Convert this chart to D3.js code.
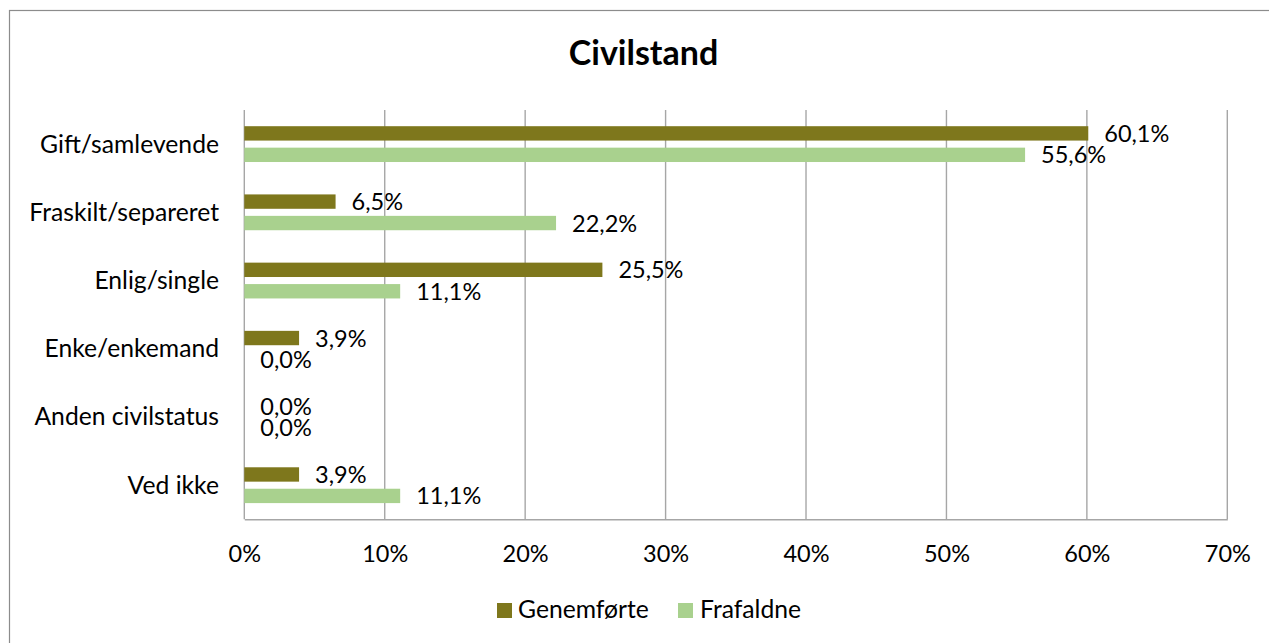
<!DOCTYPE html>
<html>
<head>
<meta charset="utf-8">
<script src="https://cdn.jsdelivr.net/npm/d3@7"></script>
<style>
  html, body { margin: 0; padding: 0; background: #ffffff; }
  svg { display: block; font-family: Lato, "Open Sans", sans-serif; }
</style>
</head>
<body>
<svg id="chart" width="1269" height="643"></svg>
<script>
const categories = ["Gift/samlevende", "Fraskilt/separeret", "Enlig/single", "Enke/enkemand", "Anden civilstatus", "Ved ikke"];
const seriesNames = ["Genemførte", "Frafaldne"];
const genemforte = [60.1, 6.5, 25.5, 3.9, 0.0, 3.9];
const frafaldne = [55.6, 22.2, 11.1, 0.0, 0.0, 11.1];
const xTicks = [0, 10, 20, 30, 40, 50, 60, 70];
const title = "Civilstand";

const colors = { "Genemførte": "#7e771c", "Frafaldne": "#a9d18e" };
const seriesValues = { "Genemførte": genemforte, "Frafaldne": frafaldne };

const svg = d3.select("#chart");

// outer chart border (extends past right/bottom edges)
svg.append("rect")
  .attr("x", 9.5).attr("y", 10.5)
  .attr("width", 1300).attr("height", 700)
  .attr("fill", "#ffffff")
  .attr("stroke", "#8c8c8c").attr("stroke-width", 1.2);

const plot = { left: 244.3, right: 1227.3, top: 110, bottom: 519.3 };

const x = d3.scaleLinear().domain([0, 70]).range([plot.left, plot.right]);
const y0 = d3.scaleBand().domain(categories).range([plot.top, plot.bottom])
  .paddingInner(0.475).paddingOuter(0.2375);
const y1 = d3.scaleBand().domain(seriesNames).range([0, y0.bandwidth()]).paddingInner(0.33);

const labelSize = 24.7, numSize = 23.5;

// gridlines
svg.append("g").selectAll("line").data(xTicks).join("line")
  .attr("x1", d => x(d)).attr("x2", d => x(d))
  .attr("y1", plot.top).attr("y2", plot.bottom)
  .attr("stroke", "#a6a6a6").attr("stroke-width", 1.4);

// x axis
const xAxis = d3.axisBottom(x).tickValues(xTicks).tickFormat(d => d + "%").tickSize(0).tickPadding(24);
const gx = svg.append("g").attr("transform", `translate(0,${plot.bottom})`).call(xAxis);
gx.select(".domain").attr("stroke", "#a6a6a6").attr("stroke-width", 1.4);
gx.selectAll("text").attr("font-size", numSize).attr("fill", "#000").attr("font-family", "Lato, sans-serif")
  .attr("dy", null).attr("y", 42.5);

// y category labels
svg.append("g").selectAll("text").data(categories).join("text")
  .attr("x", 219)
  .attr("y", d => y0(d) + y0.bandwidth() / 2 + 8.5)
  .attr("text-anchor", "end")
  .attr("font-size", labelSize)
  .attr("fill", "#000")
  .text(d => d);

// bars
const groups = svg.append("g").selectAll("g").data(categories).join("g")
  .attr("transform", d => `translate(0,${y0(d)})`);

groups.selectAll("rect")
  .data((c, i) => seriesNames.map(s => ({ s, v: seriesValues[s][i] })))
  .join("rect")
  .attr("x", x(0))
  .attr("y", d => y1(d.s))
  .attr("width", d => x(d.v) - x(0))
  .attr("height", y1.bandwidth())
  .attr("fill", d => colors[d.s]);

// data labels
groups.selectAll("text")
  .data((c, i) => seriesNames.map(s => ({ s, v: seriesValues[s][i] })))
  .join("text")
  .attr("x", d => x(d.v) + 16)
  .attr("y", d => y1(d.s) + y1.bandwidth() / 2 + 8.5)
  .attr("font-size", numSize)
  .attr("fill", "#000")
  .text(d => d.v.toFixed(1).replace(".", ",") + "%");

// title
svg.append("text")
  .attr("x", 643.5).attr("y", 65)
  .attr("text-anchor", "middle")
  .attr("font-size", 34).attr("font-weight", "bold")
  .attr("fill", "#000")
  .text(title);

// legend
const legendPos = [{ sx: 497, tx: 518 }, { sx: 678, tx: 700 }];
const lg = svg.append("g").selectAll("g").data(seriesNames).join("g");
lg.append("rect")
  .attr("x", (d, i) => legendPos[i].sx).attr("y", 603)
  .attr("width", 15).attr("height", 15)
  .attr("fill", d => colors[d]);
lg.append("text")
  .attr("x", (d, i) => legendPos[i].tx).attr("y", 618)
  .attr("font-size", labelSize).attr("fill", "#000")
  .text(d => d);
</script>
</body>
</html>
